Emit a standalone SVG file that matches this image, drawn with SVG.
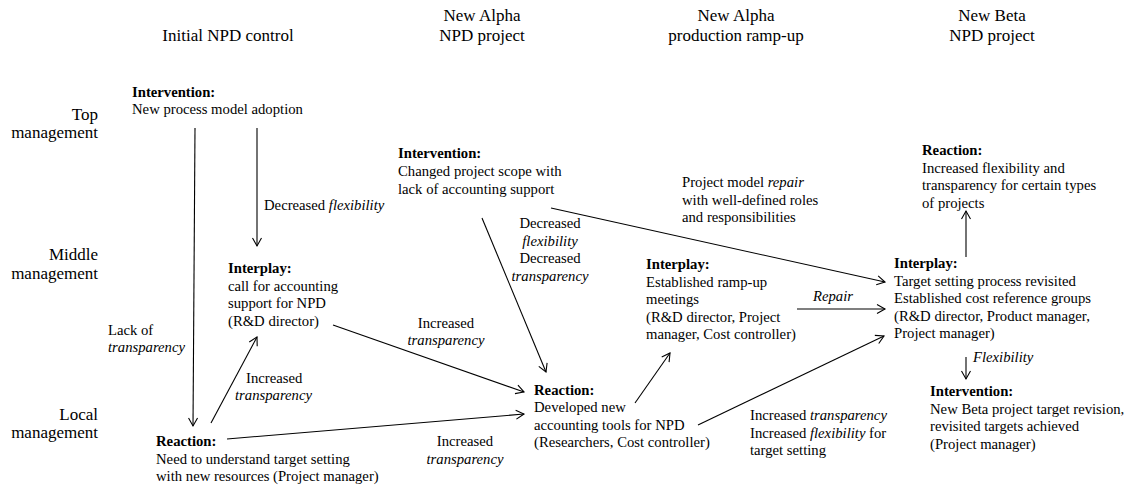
<svg xmlns="http://www.w3.org/2000/svg" width="1125" height="486" viewBox="0 0 1125 486" font-family="Liberation Serif, Times New Roman, serif">
<style>
text{fill:#000;font-family:'Liberation Serif','Times New Roman',serif}
.h{font-size:17px;text-anchor:middle}
.r{font-size:17px;text-anchor:end}
.t{font-size:14.7px}
.b{font-weight:bold}
.i{font-style:italic}
.m{text-anchor:middle}
.c line{stroke:#000;stroke-width:1.1;fill:none;marker-end:url(#ah)}
</style>
<defs>
<marker id="ah" markerUnits="userSpaceOnUse" markerWidth="12" markerHeight="12" refX="10" refY="6" orient="auto">
<path d="M2,1.5 L10,6 L2,10.5" fill="none" stroke="#000" stroke-width="1.1"/>
</marker>
</defs>
<rect width="1125" height="486" fill="#fff"/>
<g id="headers">
<text class="h" x="228" y="41">Initial NPD control</text>
<text class="h" x="482" y="21">New Alpha</text>
<text class="h" x="482" y="41">NPD project</text>
<text class="h" x="736" y="21">New Alpha</text>
<text class="h" x="736" y="41">production ramp-up</text>
<text class="h" x="992" y="21">New Beta</text>
<text class="h" x="992" y="41">NPD project</text>
</g>
<g id="rows">
<text class="r" x="98" y="120">Top</text>
<text class="r" x="98" y="138">management</text>
<text class="r" x="98" y="260">Middle</text>
<text class="r" x="98" y="279">management</text>
<text class="r" x="98" y="420">Local</text>
<text class="r" x="98" y="438">management</text>
</g>
<g id="n1">
<text class="t b" x="132" y="97">Intervention:</text>
<text class="t" x="132" y="114">New process model adoption</text>
</g>
<g id="n2">
<text class="t b" x="228" y="273">Interplay:</text>
<text class="t" x="228" y="290.5">call for accounting</text>
<text class="t" x="228" y="308">support for NPD</text>
<text class="t" x="228" y="325.5">(R&amp;D director)</text>
</g>
<g id="n3">
<text class="t b" x="156" y="446">Reaction:</text>
<text class="t" x="156" y="463.5">Need to understand target setting</text>
<text class="t" x="156" y="481">with new resources (Project manager)</text>
</g>
<g id="n4">
<text class="t b" x="398" y="158">Intervention:</text>
<text class="t" x="398" y="176">Changed project scope with</text>
<text class="t" x="398" y="193.5">lack of accounting support</text>
</g>
<g id="n5">
<text class="t b" x="534" y="395">Reaction:</text>
<text class="t" x="534" y="412">Developed new</text>
<text class="t" x="534" y="429.5">accounting tools for NPD</text>
<text class="t" x="534" y="447">(Researchers, Cost controller)</text>
</g>
<g id="n6">
<text class="t b" x="646" y="269">Interplay:</text>
<text class="t" x="646" y="286.5">Established ramp-up</text>
<text class="t" x="646" y="304">meetings</text>
<text class="t" x="646" y="321.5">(R&amp;D director, Project</text>
<text class="t" x="646" y="339">manager, Cost controller)</text>
</g>
<g id="n7">
<text class="t b" x="894" y="268">Interplay:</text>
<text class="t" x="894" y="285.5">Target setting process revisited</text>
<text class="t" x="894" y="303">Established cost reference groups</text>
<text class="t" x="894" y="320.5">(R&amp;D director, Product manager,</text>
<text class="t" x="894" y="338">Project manager)</text>
</g>
<g id="n8">
<text class="t b" x="922" y="155">Reaction:</text>
<text class="t" x="922" y="172.5">Increased flexibility and</text>
<text class="t" x="922" y="190">transparency for certain types</text>
<text class="t" x="922" y="207.5">of projects</text>
</g>
<g id="n9">
<text class="t b" x="930" y="396">Intervention:</text>
<text class="t" x="930" y="413.5">New Beta project target revision,</text>
<text class="t" x="930" y="431">revisited targets achieved</text>
<text class="t" x="930" y="448.5">(Project manager)</text>
</g>
<g id="connectors" class="c">
<line x1="195" y1="128" x2="193" y2="426"/>
<line x1="257" y1="128" x2="257" y2="246"/>
<line x1="211" y1="423" x2="257" y2="337"/>
<line x1="333" y1="325" x2="524" y2="392"/>
<line x1="482" y1="218" x2="546" y2="372"/>
<line x1="227" y1="439" x2="524" y2="414"/>
<line x1="635" y1="403" x2="670" y2="353"/>
<line x1="698" y1="425" x2="884" y2="336"/>
<line x1="551" y1="208" x2="885" y2="282"/>
<line x1="797" y1="309" x2="885" y2="309"/>
<line x1="966" y1="257" x2="966" y2="211"/>
<line x1="966" y1="357" x2="966" y2="379"/>
</g>
<g id="labels">
<text class="t" x="264" y="210">Decreased <tspan class="i">flexibility</tspan></text>
<text class="t" x="108" y="335">Lack of</text>
<text class="t i" x="108" y="352">transparency</text>
<text class="t" x="246" y="383">Increased</text>
<text class="t i" x="235" y="400">transparency</text>
<text class="t m" x="446" y="328">Increased</text>
<text class="t i m" x="446" y="345">transparency</text>
<text class="t m" x="550" y="228">Decreased</text>
<text class="t i m" x="550" y="245.5">flexibility</text>
<text class="t m" x="550" y="263">Decreased</text>
<text class="t i m" x="550" y="280.5">transparency</text>
<text class="t m" x="465" y="446">Increased</text>
<text class="t i m" x="465" y="464">transparency</text>
<text class="t" x="682" y="187">Project model <tspan class="i">repair</tspan></text>
<text class="t" x="682" y="204.5">with well-defined roles</text>
<text class="t" x="682" y="222">and responsibilities</text>
<text class="t i m" x="833" y="301">Repair</text>
<text class="t" x="750" y="420">Increased <tspan class="i">transparency</tspan></text>
<text class="t" x="750" y="437.5">Increased <tspan class="i">flexibility</tspan> for</text>
<text class="t" x="750" y="455">target setting</text>
<text class="t i" x="973" y="362">Flexibility</text>
</g>
</svg>
